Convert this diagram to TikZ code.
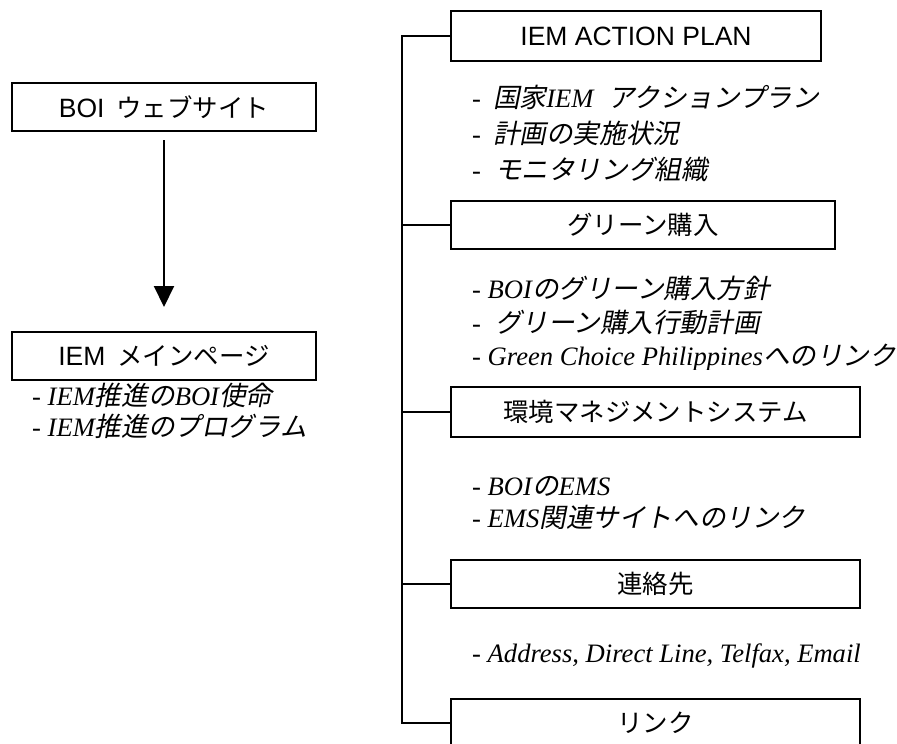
\documentclass[tikz,border=0pt]{standalone}
\usepackage{fontspec}
\setmainfont{Liberation Serif}
\newfontfamily\labelsans{Liberation Sans}
\newfontfamily\jpup[Scale=0.96]{Noto Sans CJK JP}
\newfontfamily\jpit[FakeSlant=0.2]{Noto Sans CJK JP}
\newcommand\jup[1]{{\jpup #1}}
\newcommand\jit[1]{{\jpit #1}}
\usetikzlibrary{arrows.meta}

\tikzset{
  box/.style={draw, line width=2pt, inner sep=0pt, minimum height=48pt,
    font=\labelsans\fontsize{26.5}{30}\selectfont},
  bullet/.style={anchor=base west, inner sep=0pt,
    font=\itshape\fontsize{26.6}{30}\selectfont},
  wire/.style={line width=2pt},
  flow/.style={line width=2pt, -{Triangle[width=20pt,length=21pt]}}
}

\begin{document}
\begin{tikzpicture}[x=1pt,y=-1pt]
\useasboundingbox (0,0) rectangle (897,744);
\clip (0,0) rectangle (897,744);

% left column: site entry and main page
\node[box, minimum width=304pt] (boi) at (164,107) {BOI\hspace{12pt}\jup{ウェブサイト}};
\node[box, minimum width=304pt] (iem) at (164,356) {IEM\hspace{12pt}\jup{メインページ}};
\draw[flow, shorten <=8pt, shorten >=24pt] (boi) -- (iem);

\node[bullet] (m1) at (32,405) {- IEM\jit{推進の}BOI\jit{使命}};
\node[bullet] (m2) at (32,436) {- IEM\jit{推進のプログラム}};

% right column: sub pages
\node[box, minimum width=370pt, minimum height=50pt] (plan) at (636,36) {IEM ACTION PLAN};
\node[bullet] (p1) at (472,107) {-\hspace{12pt}\jit{国家}IEM\hspace{15pt}\jit{アクションプラン}};
\node[bullet] (p2) at (472,143) {-\hspace{12pt}\jit{計画の実施状況}};
\node[bullet] (p3) at (472,179) {-\hspace{14pt}\jit{モニタリング組織}};

\node[box, minimum width=384pt] (green) at (643,225) {\jup{グリーン購入}};
\node[bullet] (g1) at (472,298) {- BOI\jit{のグリーン購入方針}};
\node[bullet] (g2) at (472,332) {-\hspace{14pt}\jit{グリーン購入行動計画}};
\begin{scope}
  \clip (0,0) rectangle (897,369);
  \node[bullet] (g3) at (472,365) {- Green Choice Philippines\jit{へのリンク}};
\end{scope}

\node[box, minimum width=409pt, minimum height=50pt] (ems) at (655.5,412) {\jup{環境マネジメントシステム}};
\node[bullet] (e1) at (472,495) {- BOI\jit{の}EMS};
\begin{scope}
  \clip (0,0) rectangle (897,528);
  \node[bullet] (e2) at (472,527) {- EMS\jit{関連サイトへのリンク}};
\end{scope}

\node[box, minimum width=409pt] (contact) at (655.5,584) {\jup{連絡先}};
\node[bullet] (c1) at (472,662) {- Address, Direct Line, Telfax, Email};

\node[box, minimum width=409pt] (link) at (655.5,723) {\jup{リンク}};

% tree trunk joining the sub pages
\coordinate (trunktop) at (402,36);
\coordinate (trunkbot) at (402,723);
\draw[wire] (plan.west) -- (trunktop) -- (trunkbot) -- (link.west);
\foreach \n in {green,ems,contact}
  \draw[wire] (\n.west) -- (\n.west -| trunktop);
\end{tikzpicture}
\end{document}
